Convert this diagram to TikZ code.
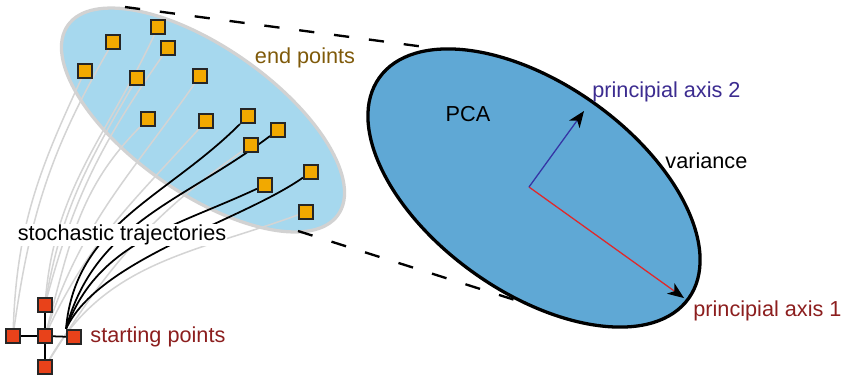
\documentclass[tikz,border=0pt]{standalone}
\usepackage{fontspec}
\setmainfont{Liberation Sans}
\usetikzlibrary{positioning,arrows.meta,backgrounds}

\definecolor{CloudBlue}{HTML}{A6D8EE}
\definecolor{CloudRim}{HTML}{D2D2D2}
\definecolor{PcaBlue}{HTML}{5FA8D5}
\definecolor{EndOrange}{HTML}{F2A900}
\definecolor{StartRed}{HTML}{E8421A}
\definecolor{EndBrown}{HTML}{7F5A0A}
\definecolor{LabelRed}{HTML}{8C1E1E}
\definecolor{LabelBlue}{HTML}{3C2C90}
\definecolor{AxisRed}{HTML}{E0282A}
\definecolor{AxisBlue}{HTML}{3535A5}
\definecolor{TrajGray}{HTML}{D4D4D4}

\begin{document}
\begin{tikzpicture}[
  x=0.03cm, y=0.03cm,
  endpt/.style={rectangle, draw=black!85, fill=EndOrange, line width=1.9pt,
                minimum size=11.8pt, inner sep=0pt},
  startpt/.style={rectangle, draw=black!85, fill=StartRed, line width=1.9pt,
                  minimum size=11.8pt, inner sep=0pt},
  traj/.style={draw=TrajGray, line width=1.3pt},
  picked/.style={draw=black, line width=1.5pt},
  tangent/.style={draw=black, dash pattern=on 13pt off 17pt, line width=2pt},
  lbl/.style={font=\fontsize{18.5}{20}\selectfont, inner sep=1pt},
  axis/.style={line width=1.1pt, -{Stealth[black, length=14pt, width=11pt, inset=4pt]}},
]
  \useasboundingbox (0,0) rectangle (844,-380);

  % End points
  \foreach \name/\x/\y in {e1/158/27, e2/113/42, e3/168/48, e4/85/71, e5/137/78,
                           e6/200/76, e7/148/119, e8/206/121, e9/248/116,
                           e10/278/130, e11/251/145, e12/311/172, e13/265/185,
                           e14/306/212}
    \node[endpt] (\name) at (\x,-\y) {};

  % Starting points
  \node[startpt] (sC) at (45,-336) {};
  \node[startpt] (sL) at (13,-336) {};
  \node[startpt] (sR) at (74,-337) {};
  \node[startpt] (sT) at (45,-305) {};
  \node[startpt] (sB) at (45,-367) {};

  % Labels
  \node[lbl, text=EndBrown] (endlbl) at (305,-58) {end points};
  \node[lbl, fill=white] (trajlbl) at (122,-235) {stochastic trajectories};
  \node[lbl, text=LabelRed, right=6pt of sR] (startlbl) {starting points};
  \node[lbl] (pcalbl) at (468,-114) {PCA};
  \node[lbl, text=LabelBlue, anchor=west] (ax2lbl) at (591,-92) {principial axis 2};
  \node[lbl, anchor=west] (varlbl) at (664,-161) {variance};
  \node[lbl, text=LabelRed, anchor=west] (ax1lbl) at (692,-311) {principial axis 1};

  \coordinate (mid) at (529,-187);
  \coordinate (ax1) at (684,-298);
  \coordinate (ax2) at (584,-111);
  \coordinate (topA) at (125,-7);
  \coordinate (topB) at (425,-47);
  \coordinate (botA) at (298,-231);
  \coordinate (botB) at (537,-307);

  \begin{scope}[on background layer]
    % Ellipses
    \filldraw[fill=CloudBlue, draw=CloudRim, line width=2.8pt,
              rotate around={-35:(203,-120)}]
      (203,-120) ellipse [x radius=165, y radius=73];
    \draw[tangent] (topA) -- (topB);
    \draw[tangent] (botA) -- (botB);
    \filldraw[fill=PcaBlue, draw=black, line width=2.8pt,
              rotate around={-35.5:(534,-188)}]
      (534,-188) ellipse [x radius=190, y radius=104];

    % Trajectories
    \draw[traj] (sL) to[out=88, in=245] (e4);
    \draw[traj] (sL) to[out=82, in=240] (e2);
    \draw[traj] (sT) to[out=85, in=245] (e1);
    \draw[traj] (sT) to[out=75, in=235] (e3);
    \draw[traj] (sT) to[out=80, in=240] (e5);
    \draw[traj] (sC) to[out=72, in=235] (e6);
    \draw[traj] (sC) to[out=75, in=225] (e7);
    \draw[traj] (sC) to[out=65, in=228] (e8);
    \draw[traj] (sB) to[out=58, in=215] (e11);
    \draw[traj] (sB) to[out=60, in=200] (e14);
    \draw[picked] (sR.north west) to[out=85, in=225] (e9);
    \draw[picked] (sR.north west) to[out=75, in=217] (e10);
    \draw[picked] (sR.north west) to[out=70, in=205] (e13);
    \draw[picked] (sR.north west) to[out=65, in=215, looseness=0.7] (e12);

    % Cross of starting points
    \draw[picked] (sC) -- (sL);
    \draw[picked] (sC) -- (sR);
    \draw[picked] (sC) -- (sT);
    \draw[picked] (sC) -- (sB);

    % Principal axes
    \draw[axis, AxisRed] (mid) -- (ax1);
    \draw[axis, AxisBlue] (mid) -- (ax2);
  \end{scope}
\end{tikzpicture}
\end{document}
